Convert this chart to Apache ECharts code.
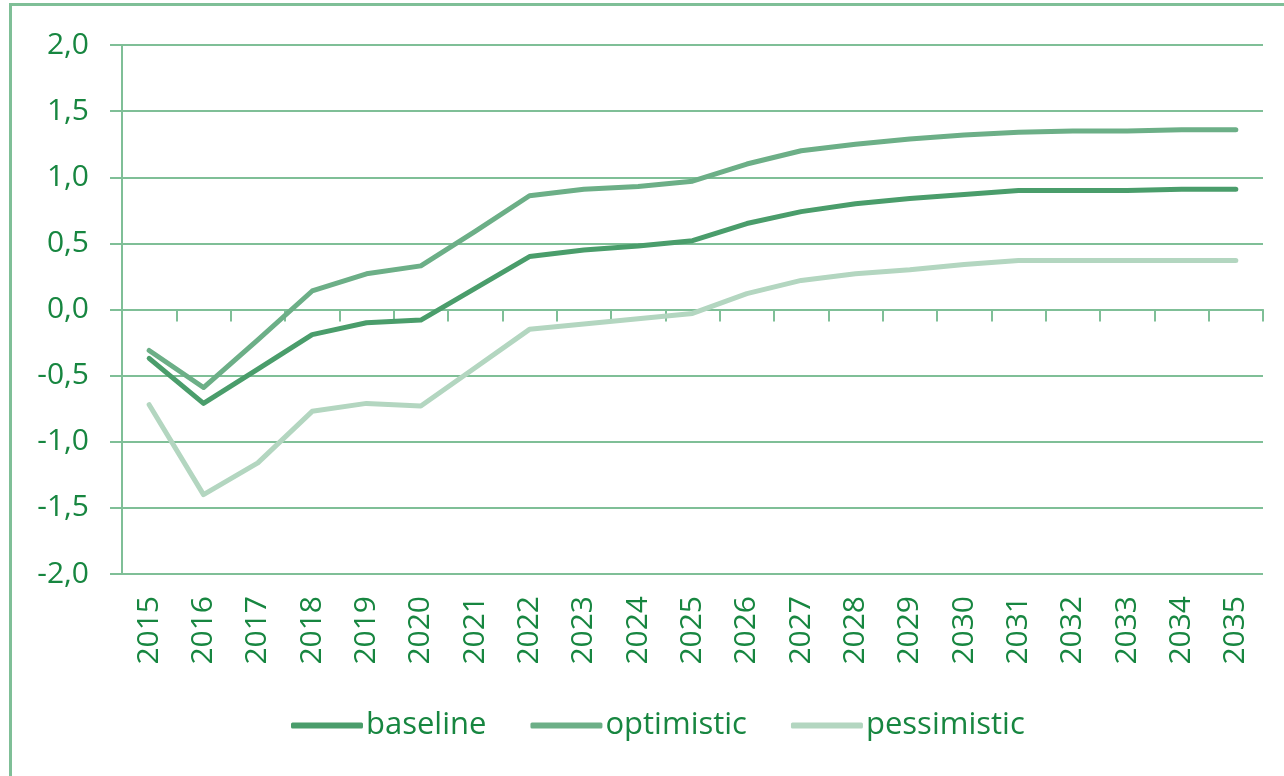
<!DOCTYPE html>
<html>
<head>
<meta charset="utf-8">
<script src="https://cdn.jsdelivr.net/npm/echarts@6/dist/echarts.min.js"></script>
<style>
  html, body { margin: 0; padding: 0; background: #ffffff; }
  #chart { width: 1284px; height: 776px; }
</style>
</head>
<body>
<div id="chart"></div>
<script>
// Scenario paths, 2015–2035
const years = ['2015','2016','2017','2018','2019','2020','2021','2022','2023','2024','2025',
               '2026','2027','2028','2029','2030','2031','2032','2033','2034','2035'];
const baseline    = [-0.37,-0.71,-0.45,-0.19,-0.10,-0.08, 0.16, 0.40, 0.45, 0.48, 0.52,
                      0.65, 0.74, 0.80, 0.84, 0.87, 0.90, 0.90, 0.90, 0.91, 0.91];
const optimistic  = [-0.31,-0.59,-0.23, 0.14, 0.27, 0.33, 0.59, 0.86, 0.91, 0.93, 0.97,
                      1.10, 1.20, 1.25, 1.29, 1.32, 1.34, 1.35, 1.35, 1.36, 1.36];
const pessimistic = [-0.72,-1.40,-1.16,-0.77,-0.71,-0.73,-0.44,-0.15,-0.11,-0.07,-0.03,
                      0.12, 0.22, 0.27, 0.30, 0.34, 0.37, 0.37, 0.37, 0.37, 0.37];
const seriesNames = ['baseline', 'optimistic', 'pessimistic'];
const yMin = -2, yMax = 2, yStep = 0.5;

const FONT = "'Open Sans', 'Noto Sans', sans-serif";
const TEXT = '#178640';
const RULE = '#7fbf97';
const COLORS = ['#4a9d6b', '#6caf87', '#b3d6c0'];

const chart = echarts.init(document.getElementById('chart'), null, { renderer: 'canvas' });

function line(name, data, color) {
  return {
    name, type: 'line', data,
    symbol: 'none', smooth: false, xAxisIndex: 0,
    color,
    lineStyle: { width: 5, color, cap: 'round', join: 'round' },
    emphasis: { disabled: true }
  };
}

chart.setOption({
  animation: false,
  backgroundColor: '#ffffff',
  textStyle: { fontFamily: FONT },
  graphic: [{
    type: 'rect', silent: true,
    shape: { x: 10.5, y: 4.5, width: 1400, height: 900 },
    style: { fill: 'none', stroke: RULE, lineWidth: 3 }
  }],
  grid: { left: 122, top: 45, width: 1141, height: 529, containLabel: false },
  legend: {
    data: seriesNames,
    left: 286, top: 705,
    icon: 'roundRect',
    itemWidth: 72, itemHeight: 6, itemGap: 44,
    textStyle: { color: TEXT, fontSize: 31, fontFamily: FONT, padding: [0, 0, 0, -2] },
    selectedMode: false
  },
  xAxis: [{
    type: 'category', data: years, position: 'bottom', boundaryGap: true,
    axisLine: { show: false, onZero: false },
    axisTick: { show: false },
    axisLabel: { rotate: 90, margin: 22, color: TEXT, fontSize: 30, fontFamily: FONT, interval: 0 },
    splitLine: { show: false }
  }, {
    type: 'category', data: years, position: 'top', boundaryGap: true,
    axisLine: { show: true, onZero: true, lineStyle: { color: RULE, width: 2 } },
    axisTick: { show: true, inside: true, length: 12, interval: 0, lineStyle: { color: RULE, width: 2 } },
    axisLabel: { show: false },
    splitLine: { show: false }
  }],
  yAxis: {
    type: 'value', min: yMin, max: yMax, interval: yStep,
    axisLine: { show: true, lineStyle: { color: RULE, width: 2 } },
    axisTick: { show: true, length: 12, lineStyle: { color: RULE, width: 2 } },
    axisLabel: {
      margin: 33, color: TEXT, fontSize: 30, fontFamily: FONT,
      formatter: v => v.toFixed(1).replace('.', ',')
    },
    splitLine: { show: true, lineStyle: { color: RULE, width: 2 } }
  },
  series: [
    line(seriesNames[0], baseline, COLORS[0]),
    line(seriesNames[1], optimistic, COLORS[1]),
    line(seriesNames[2], pessimistic, COLORS[2])
  ]
});
</script>
</body>
</html>
